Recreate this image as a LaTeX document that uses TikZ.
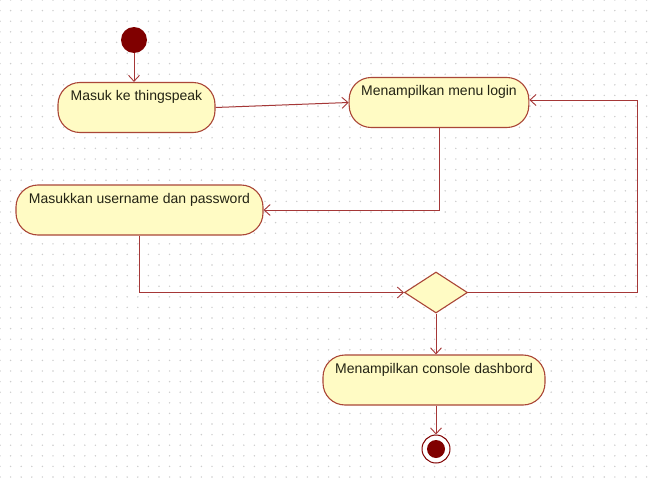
\documentclass[tikz,border=0pt]{standalone}
\usepackage{fontspec}
\setmainfont{Liberation Sans}
\usetikzlibrary{arrows.meta,shapes.geometric,calc}

\definecolor{umlline}{RGB}{165,55,55}
\definecolor{umlfill}{RGB}{255,251,196}
\definecolor{umlborder}{RGB}{170,70,55}
\definecolor{umldark}{RGB}{128,0,0}
\definecolor{gridgray}{RGB}{205,205,205}
\definecolor{umltext}{RGB}{35,35,20}

\tikzset{
  activity/.style={draw=umlborder, fill=umlfill, line width=1.1pt,
    rounded corners=22pt, inner xsep=12pt, inner ysep=0pt,
    text height=18pt, text depth=32pt, text=umltext,
    font=\fontsize{14}{16}\selectfont},
  decision/.style={draw=umlborder, fill=umlfill, line width=1.1pt,
    diamond, aspect=1.55, minimum width=63pt, minimum height=41pt, inner sep=0pt},
  startnode/.style={circle, fill=umldark, minimum size=26pt, inner sep=0pt},
  endnode/.style={circle, draw=umldark, fill=white, line width=1pt,
    minimum size=28pt, inner sep=0pt,
    path picture={\fill[umldark] (path picture bounding box.center) circle (9pt);}},
  flow/.style={draw=umlline, line width=1pt,
    -{Straight Barb[length=6pt,width=11pt,line width=0.9pt]}},
}

\begin{document}
\begin{tikzpicture}[x=1pt, y=-1pt]
  \useasboundingbox (0,0) rectangle (648,479);
  \fill[white] (0,0) rectangle (648,479);

  % dotted drawing grid
  \foreach \i in {0,...,61} {
    \foreach \j in {0,...,45} {
      \fill[gridgray] (10.6*\i, 10.6*\j) circle (0.8pt);
    }
  }

  % nodes
  \node[startnode] (start) at (134,40) {};
  \node[activity, minimum width=157pt] (a1) at (136.5,107.5) {Masuk ke thingspeak};
  \node[activity, minimum width=178pt] (a2) at (439,102.5) {Menampilkan menu login};
  \node[activity, minimum width=247pt] (a3) at (139.5,210) {Masukkan username dan password};
  \node[decision] (dec) at (436,292.5) {};
  \node[activity, minimum width=222pt] (a4) at (434,380) {Menampilkan console dashbord};
  \node[endnode] (end) at (436,449) {};

  % corner of the loop back to the login menu
  \coordinate (loop) at (637,100);

  % control flow
  \draw[flow] (start) -- (start |- a1.north);
  \draw[flow] (a1.east) -- (a2.west);
  \draw[flow] (a2.south) |- (a3.east);
  \draw[flow] (a3.south) |- (dec.west);
  \draw[flow] (dec.east) -| (loop) -- (a2.east |- loop);
  \draw[flow] (dec.south) -- (dec.south |- a4.north);
  \draw[flow] (end.north |- a4.south) -- (end.north);
\end{tikzpicture}
\end{document}
